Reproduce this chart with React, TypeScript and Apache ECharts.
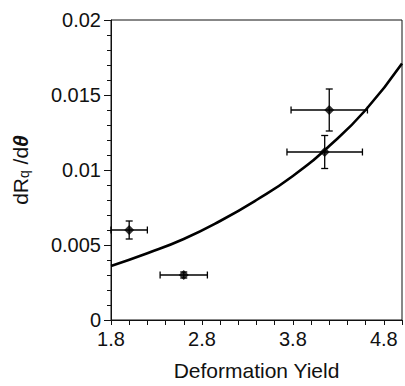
import React, { useEffect, useRef } from "react";
import * as echarts from "echarts";

// Measured points: [x, y, xError, yError]
const pointX = [2.0, 2.6, 4.2, 4.15];
const pointY = [0.006, 0.003, 0.014, 0.0112];
const pointXErr = [0.2, 0.26, 0.42, 0.415];
const pointYErr = [0.0006, 0.0002, 0.0014, 0.0011];

// Fitted curve
const curveX = [1.8, 2.2, 2.6, 3.0, 3.4, 3.8, 4.2, 4.6, 5.0];
const curveY = [0.0036, 0.00445, 0.0054, 0.0066, 0.008, 0.0096, 0.0116, 0.014, 0.0171];

const xTickLabels = ["1.8", "2.8", "3.8", "4.8"];
const yTickLabels = ["0", "0.005", "0.01", "0.015", "0.02"];

const FONT = "'Liberation Sans', Arial, Helvetica, sans-serif";
const INK = "#111";

export default function App() {
  const ref = useRef<HTMLDivElement>(null);

  useEffect(() => {
    if (!ref.current) return;
    const chart = echarts.init(ref.current, null, { renderer: "svg" });

    const errData = pointX.map((x, i) => [x, pointY[i], pointXErr[i], pointYErr[i]]);
    const scatterData = pointX.map((x, i) => [x, pointY[i]]);
    const curveData = curveX.map((x, i) => [x, curveY[i]]);

    const option: any = {
      animation: false,
      backgroundColor: "#fff",
      grid: {
        left: 111,
        right: 1,
        top: 20,
        bottom: 63,
        show: true,
        borderColor: INK,
        borderWidth: 1,
        containLabel: false,
      },
      xAxis: {
        type: "value",
        min: 1.8,
        max: 5.0,
        interval: 0.2,
        name: "Deformation Yield",
        nameLocation: "middle",
        nameGap: 40,
        nameTextStyle: { fontFamily: FONT, fontSize: 21, color: INK },
        axisLine: { show: true, lineStyle: { color: INK, width: 1 } },
        axisTick: { show: true, inside: false, length: 5, lineStyle: { color: INK } },
        splitLine: { show: false },
        axisLabel: {
          margin: 9,
          fontFamily: FONT,
          fontSize: 20,
          color: INK,
          formatter: (v: number) => {
            const s = (Math.round(v * 10) / 10).toFixed(1);
            return xTickLabels.indexOf(s) >= 0 ? s : "";
          },
        },
      },
      yAxis: {
        type: "value",
        min: 0,
        max: 0.02,
        interval: 0.005,
        name: "{a|dR}{s|q}{a| /d}{t|θ}",
        nameLocation: "middle",
        nameGap: 80,
        nameRotate: 90,
        nameTextStyle: {
          fontFamily: FONT,
          fontSize: 21,
          color: INK,
          rich: {
            a: { fontFamily: FONT, fontSize: 21, color: INK },
            s: { fontFamily: FONT, fontSize: 14, color: INK, verticalAlign: "bottom", padding: [8, 0, 0, 0] },
            t: { fontFamily: FONT, fontSize: 21, color: INK, fontStyle: "italic", fontWeight: "bold" },
          },
        },
        axisLine: { show: true, lineStyle: { color: INK, width: 1 } },
        axisTick: { show: true, inside: false, length: 7, lineStyle: { color: INK } },
        minorTick: { show: true, splitNumber: 5, length: 4, lineStyle: { color: INK } },
        splitLine: { show: false },
        minorSplitLine: { show: false },
        axisLabel: {
          margin: 10,
          fontFamily: FONT,
          fontSize: 20,
          color: INK,
          formatter: (v: number) => {
            const s = String(parseFloat(v.toFixed(4)));
            return yTickLabels.indexOf(s) >= 0 ? s : "";
          },
        },
      },
      series: [
        {
          type: "line",
          data: curveData,
          smooth: true,
          symbol: "none",
          lineStyle: { color: "#000", width: 2.6 },
          z: 2,
        },
        {
          type: "custom",
          data: errData,
          z: 3,
          renderItem: (params: any, api: any) => {
            const x = api.value(0);
            const y = api.value(1);
            const xe = api.value(2);
            const ye = api.value(3);
            const l = api.coord([x - xe, y]);
            const r = api.coord([x + xe, y]);
            const t = api.coord([x, y + ye]);
            const b = api.coord([x, y - ye]);
            const cap = 3.5;
            const st = { stroke: "#000", lineWidth: 1.3 };
            return {
              type: "group",
              children: [
                { type: "line", shape: { x1: l[0], y1: l[1], x2: r[0], y2: r[1] }, style: st },
                { type: "line", shape: { x1: l[0], y1: l[1] - cap, x2: l[0], y2: l[1] + cap }, style: st },
                { type: "line", shape: { x1: r[0], y1: r[1] - cap, x2: r[0], y2: r[1] + cap }, style: st },
                { type: "line", shape: { x1: t[0], y1: t[1], x2: b[0], y2: b[1] }, style: st },
                { type: "line", shape: { x1: t[0] - cap, y1: t[1], x2: t[0] + cap, y2: t[1] }, style: st },
                { type: "line", shape: { x1: b[0] - cap, y1: b[1], x2: b[0] + cap, y2: b[1] }, style: st },
              ],
            };
          },
        },
        {
          type: "scatter",
          data: scatterData,
          symbol: "diamond",
          symbolSize: 10,
          itemStyle: { color: "#000" },
          z: 4,
        },
      ],
    };

    chart.setOption(option);
    return () => chart.dispose();
  }, []);

  return <div ref={ref} style={{ width: 405, height: 386, position: "absolute", left: 0, top: 0 }} />;
}
